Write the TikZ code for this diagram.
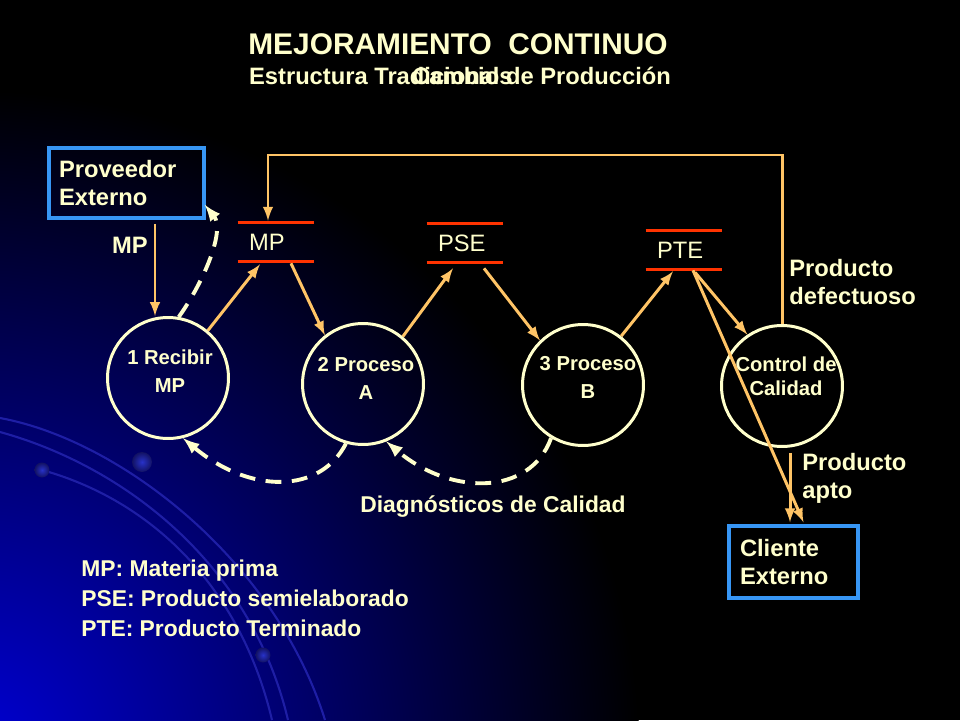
\documentclass[tikz,border=0pt]{standalone}
\usepackage{fontspec}
\setmainfont{Liberation Sans}
\usetikzlibrary{arrows}
\usetikzlibrary{calc}
\usetikzlibrary{positioning}
\usetikzlibrary{shadings}
\definecolor{cream}{RGB}{255,255,204}
\definecolor{flowor}{RGB}{255,196,102}
\definecolor{storered}{RGB}{255,51,0}
\definecolor{boxblue}{RGB}{55,150,245}
\definecolor{deepblue}{RGB}{0,0,215}
\definecolor{arcblue}{RGB}{30,30,165}
\definecolor{dotblue}{RGB}{40,50,200}

\begin{document}
\begin{tikzpicture}[>=latex, x=0.02cm, y=-0.02cm,
    flow/.style={->, draw=flowor, line width=1.7pt},
    diag/.style={->, draw=cream, line width=2.2pt, dash pattern=on 9pt off 6pt},
    proc/.style={circle, draw=cream, line width=1.7pt, minimum size=2.42cm, inner sep=0pt},
    proclbl/.style={text=cream, font=\fontsize{11.5}{16}\selectfont\bfseries, align=center, inner sep=0pt},
    ext/.style={draw=boxblue, line width=2pt, text=cream, font=\fontsize{13.5}{16}\selectfont\bfseries, align=left, inner sep=0pt},
    store/.style={text=cream, font=\fontsize{13.5}{16}\selectfont, text width=1.08cm, align=left, inner xsep=0.22cm, inner ysep=0pt, minimum height=0.76cm},
    lbl/.style={text=cream, font=\fontsize{13.5}{16}\selectfont\bfseries, align=left, inner sep=0pt},
    bead/.style={inner color=dotblue, outer color=arcblue!60!black}]

      % background
      \fill[black] (0,0) rectangle (960,720);
      \begin{scope}
        \clip (0,0) rectangle (960,720);
        \shade[inner color=deepblue, outer color=black] (-30,760) circle (13.4cm);
        \draw[arcblue, line width=1.2pt] (0,418) .. controls (120,440) and (275,560) .. (325,720);
        \draw[arcblue, line width=1.2pt] (0,432) .. controls (120,465) and (250,560) .. (288,720);
        \draw[arcblue, line width=1.2pt] (42,470) .. controls (150,500) and (240,585) .. (272,720);
        \shade[bead] (142,462) circle (0.2cm);
        \shade[bead] (42,470) circle (0.15cm);
        \shade[bead] (263,655) circle (0.15cm);
      \end{scope}

      % title
      \node[text=cream, font=\fontsize{17}{20}\selectfont\bfseries] (title) at (458,44) {MEJORAMIENTO\ \ CONTINUO};
      \node[lbl] (subtitle) at (460,76) {Estructura Tradicional de Producción};
      \node[lbl, anchor=base west] (subover) at (412,0 |- subtitle.base) {Cambios};

      % external boxes
      \node[ext, minimum width=3.1cm, minimum height=1.4cm, text width=2.7cm] (prov) at (126.5,183) {Proveedor\\Externo};
      \node[ext, minimum width=2.58cm, minimum height=1.44cm, text width=2.14cm] (cli) at (793.5,562) {Cliente\\Externo};

      % stores
      \node[store] (mp)  at (276,242) {MP};
      \node[store] (pse) at (465,243) {PSE};
      \node[store] (pte) at (684,250) {PTE};
      \foreach \s in {mp,pse,pte} {
        \draw[storered, line width=2pt] (\s.north west) -- (\s.north east) (\s.south west) -- (\s.south east);
      }

      % processes
      \node[proc] (c1) at (168,378) {};
      \node[proc] (c2) at (363,384) {};
      \node[proc] (c3) at (583,385) {};
      \node[proc] (c4) at (782,386) {};
      \node[proclbl] (c1txt) at (170,371) {1 Recibir\\MP};
      \node[proclbl] (c2txt) at (366,378) {2 Proceso\\A};
      \node[proclbl] (c3txt) at (588,377) {3 Proceso\\B};
      \node[proclbl] (c4txt) at (786,376) {Control de\\[-2.5pt]Calidad};

      % flows
      \coordinate (mpin) at ($(prov.south)+(28.5,4)$);
      \draw[flow] (mpin) -- (mpin |- c1.north);
      \draw[flow] (c1.50) -- ($(mp.south)+(-16,3)$);
      \draw[flow] ($(mp.south)+(15,2)$) -- (c2.128);
      \draw[flow] (c2.50) -- ($(pse.south)+(-12,6)$);
      \draw[flow] ($(pse.south)+(19,6)$) -- (c3.134);
      \draw[flow] (c3.52) -- ($(pte.south)+(-11,2)$);
      \draw[flow] ($(pte.south)+(11,3)$) -- (c4.124);
      \draw[flow] ($(pte.south)+(9,1)$) -- ($(cli.north)+(10,-2)$);
      \coordinate (aptoin) at ($(c4.south)+(8,5)$);
      \draw[flow] (aptoin) -- ($(aptoin |- cli.north)+(0,-2)$);
      \coordinate (fbk) at (268,155);
      \draw[flow] (c4.north) |- (fbk) -- ($(fbk |- mp.north)+(0,-2)$);

      % diagnostics
      \draw[diag] (c1.80) .. controls (205,280) and (225,230) .. ($(prov.south east)+(-1,-15)$);
      \draw[diag] (c2.254) .. controls (320,494) and (250,494) .. (c1.284);
      \draw[diag] (c3.239) .. controls (530,496) and (451,496) .. (c2.292);

      % labels
      \node[lbl] (mplbl) at (130,245) {MP};
      \node[lbl, anchor=west] (defect) at (789,282) {Producto\\defectuoso};
      \node[lbl, anchor=west] (apto) at (802,478) {Producto\\apto};
      \node[lbl, font=\fontsize{13}{16}\selectfont\bfseries] (diagn) at (493,507) {Diagnósticos de Calidad};
      \node[lbl, anchor=west, font=\fontsize{13}{17}\selectfont\bfseries] (legend) at (81,598) {MP: Materia prima\\PSE: Producto semielaborado\\PTE: Producto Terminado};
    \end{tikzpicture}
\end{document}
